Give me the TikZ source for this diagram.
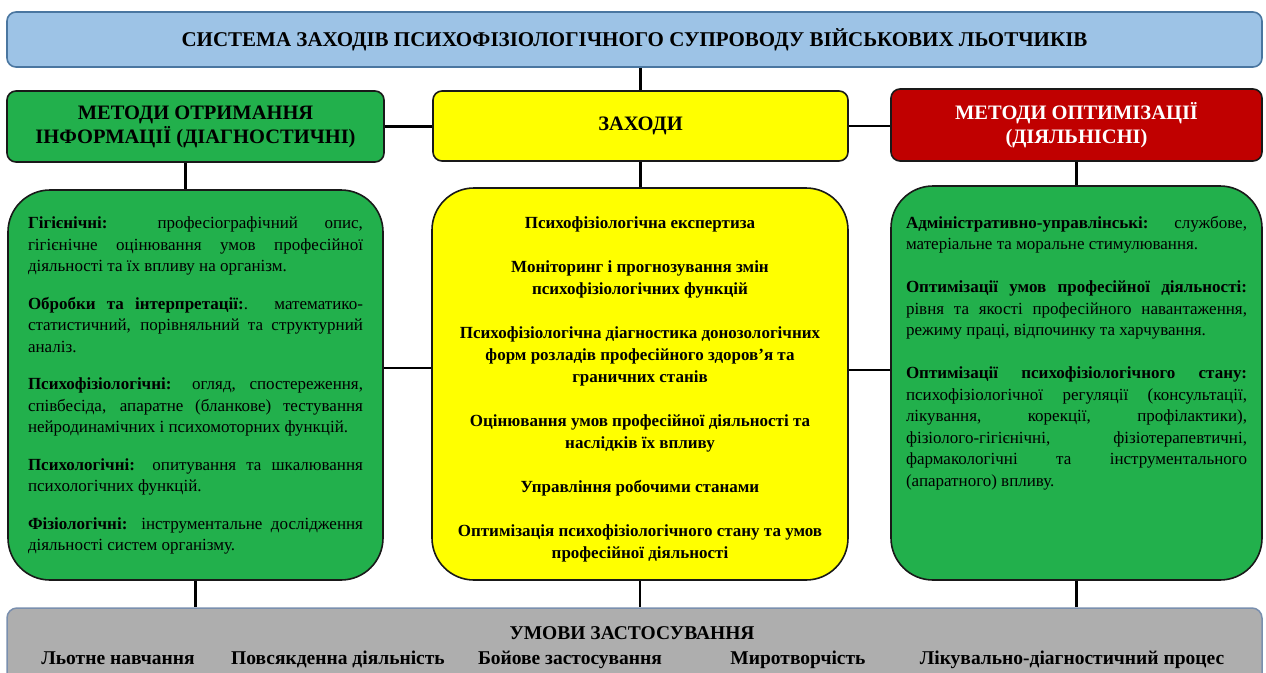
\documentclass[tikz,border=0pt]{standalone}
\usepackage{fontspec}
\setmainfont{Liberation Serif}
\usetikzlibrary{calc, positioning}
\definecolor{sblue}{HTML}{9DC3E6}
\definecolor{sblueline}{HTML}{4A76A0}
\definecolor{sgreen}{HTML}{22B04C}
\definecolor{syellow}{HTML}{FFFF00}
\definecolor{sred}{HTML}{C00000}
\definecolor{sgray}{HTML}{AEAEAE}
\definecolor{sgrayline}{HTML}{7A8FAE}

\newcommand{\boxtext}[4]{\begin{minipage}[c][#2][t]{#1}\vspace*{#3}#4\end{minipage}}

\begin{document}
\begin{tikzpicture}[x=1pt, y=-1pt,
            link/.style={line width=2.6pt, black},
            head/.style={draw=black!90, line width=1.6pt, rounded corners=9pt, inner sep=0pt, align=center,
                         font=\bfseries\fontsize{20.5}{24}\selectfont},
            bigbox/.style={draw=black!90, line width=1.6pt, rounded corners=42pt, inner xsep=20pt, inner ysep=0pt,
                         font=\fontsize{17}{21.5}\selectfont}]
    \useasboundingbox (0,0) rectangle (1266,672);
    \tikzstyle{cond item}=[font=\bfseries\fontsize{19.5}{24}\selectfont, inner sep=1pt, anchor=base]
    \node[head, fill=sblue, draw=sblueline, minimum width=1255pt, minimum height=55pt, font=\bfseries\fontsize{21}{24}\selectfont] (title) at (634.5,39.5)
        {\raisebox{-3pt}{СИСТЕМА ЗАХОДІВ ПСИХОФІЗІОЛОГІЧНОГО СУПРОВОДУ ВІЙСЬКОВИХ ЛЬОТЧИКІВ}};
    \node[head, fill=sgreen, minimum width=377pt, minimum height=71pt] (hinfo) at (195.5,126.5)
        {МЕТОДИ ОТРИМАННЯ\\ІНФОРМАЦІЇ (ДІАГНОСТИЧНІ)};
    \node[head, fill=syellow, minimum width=415pt, minimum height=70pt] (hmeas) at (640.5,126)
        {ЗАХОДИ};
    \node[head, fill=sred, text=white, minimum width=371pt, minimum height=72pt] (hopt) at (1076.5,125)
        {МЕТОДИ ОПТИМІЗАЦІЇ\\(ДІЯЛЬНІСНІ)};

    \node[bigbox, fill=sgreen] (binfo) at (195.5,385)
        {\boxtext{335pt}{390pt}{27pt}{\setlength{\parskip}{16pt}
        \textbf{Гігієнічні:} професіографічний опис,\linebreak гігієнічне оцінювання умов професійної\linebreak діяльності та їх впливу на організм.\par
        \textbf{Обробки та інтерпретації:}. математико-\linebreak статистичний, порівняльний та структурний\linebreak аналіз.\par
        \textbf{Психофізіологічні:} огляд, спостереження,\linebreak співбесіда, апаратне (бланкове) тестування\linebreak нейродинамічних і психомоторних функцій.\par
        \textbf{Психологічні:} опитування та шкалювання\linebreak психологічних функцій.\par
        \textbf{Фізіологічні:} інструментальне дослідження\linebreak діяльності систем організму.}};
    \node[bigbox, fill=syellow, font=\fontsize{17}{22}\selectfont] (bmeas) at (640,384)
        {\boxtext{376pt}{392pt}{29pt}{\centering\bfseries\setlength{\parskip}{22pt}
        Психофізіологічна експертиза\par
        Моніторинг і прогнозування змін\\ психофізіологічних функцій\par
        Психофізіологічна діагностика донозологічних\\ форм розладів професійного здоров’я та\\ граничних станів\par
        Оцінювання умов професійної діяльності та\\ наслідків їх впливу\par
        Управління робочими станами\par
        Оптимізація психофізіологічного стану та умов\\ професійної діяльності}};
    \node[bigbox, fill=sgreen, inner xsep=15pt] (bopt) at (1076.5,383)
        {\boxtext{341pt}{394pt}{30pt}{\setlength{\parskip}{21.5pt}
        \textbf{Адміністративно-управлінські:} службове,\linebreak матеріальне та моральне стимулювання.\par
        \textbf{Оптимізації умов професійної діяльності:}\linebreak рівня та якості професійного навантаження,\linebreak режиму праці, відпочинку та харчування.\par
        \textbf{Оптимізації психофізіологічного стану:}\linebreak психофізіологічної регуляції (консультації,\linebreak лікування, корекції, профілактики),\linebreak фізіолого-гігієнічні, фізіотерапевтичні,\linebreak фармакологічні та інструментального\linebreak (апаратного) впливу.}};

    \node[draw=sgrayline, fill=sgray, line width=1.5pt, rounded corners=10pt, minimum width=1255pt, minimum height=90pt] (cond) at (634.5,653) {};
    \node[cond item] (condtitle) at (632,639) {УМОВИ ЗАСТОСУВАННЯ};
    \node[cond item] (c1) at (118,664) {Льотне навчання};
    \node[cond item] (c2) at (338,664) {Повсякденна діяльність};
    \node[cond item] (c3) at (570,664) {Бойове застосування};
    \node[cond item] (c4) at (798,664) {Миротворчість};
    \node[cond item] (c5) at (1072,664) {Лікувально-діагностичний процес};

    \draw[link] (title.south -| hmeas.north) -- (hmeas.north);
    \draw[link] (hinfo.east) -- (hinfo.east -| hmeas.west);
    \draw[link] (hmeas.east) -- (hmeas.east -| hopt.west);
    \draw[link] ([xshift=-10pt]hinfo.south) -- ([xshift=-10pt]hinfo.south |- binfo.north);
    \draw[link] (hmeas.south) -- (hmeas.south |- bmeas.north);
    \draw[link] (hopt.south) -- (hopt.south |- bopt.north);
    \draw[link] ([yshift=17pt]binfo.east) -- ([yshift=17pt]binfo.east -| bmeas.west);
    \draw[link] ([yshift=13pt]bopt.west) -- ([yshift=13pt]bopt.west -| bmeas.east);
    \draw[link] (binfo.south) -- (binfo.south |- cond.north);
    \draw[link] (bmeas.south) -- (bmeas.south |- cond.north);
    \draw[link] (bopt.south) -- (bopt.south |- cond.north);
\end{tikzpicture}
\end{document}
